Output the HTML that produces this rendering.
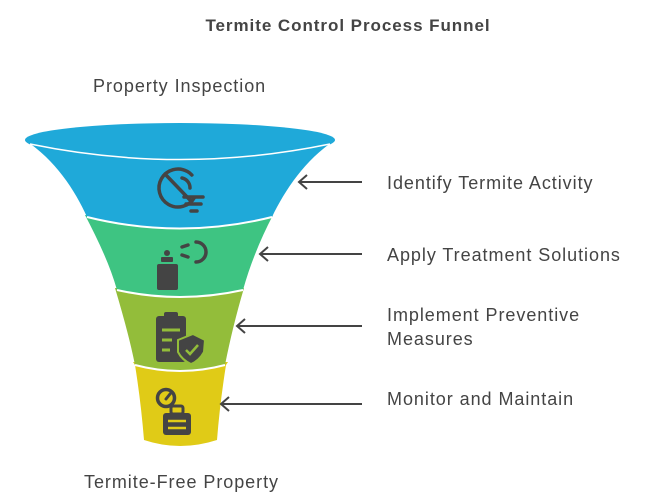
<!DOCTYPE html>
<html><head><style>
body{margin:0;width:649px;height:502px;background:#fff;overflow:hidden}
svg{display:block}
text{font-family:"Liberation Sans",sans-serif;fill:#444;letter-spacing:0.95px}
</style></head><body>
<svg width="649" height="502" viewBox="0 0 649 502">
<text x="348" y="31" text-anchor="middle" font-size="17" font-weight="bold" fill="#333">Termite Control Process Funnel</text>
<text x="93" y="92" font-size="18">Property Inspection</text>
<text x="84" y="488" font-size="18">Termite-Free Property</text>
<path d="M133,362 L135,365 C139,390 142,415 144,440 Q180,452 217,440 C219,415 222,390 226,365 L228,362 Z" fill="#e0cb17"/>
<path d="M115,288 C123,315 130,340 135,365 Q180,377 225,365 C230,340 236,315 244,288 Z" fill="#93bd3a"/>
<path d="M85,215 C98,240 110,265 117,290 Q180,304 243,290 C250,265 260,240 273,215 Z" fill="#3ec482"/>
<path d="M25,140 C55,160 75,190 87,217 Q180,240 272,217 C285,190 305,160 335,140 Z" fill="#1fa9d9"/>
<ellipse cx="180" cy="140" rx="155" ry="17" fill="#1fa9d9"/>
<path d="M30,144 Q180,175 330,144" fill="none" stroke="#fff" stroke-width="1.5"/>
<path d="M87,217 Q180,240 272,217" fill="none" stroke="#fff" stroke-width="2"/>
<path d="M117,290 Q180,304 243,290" fill="none" stroke="#fff" stroke-width="2"/>
<path d="M135,365 Q180,377 225,365" fill="none" stroke="#fff" stroke-width="2"/>
<g fill="none" stroke="#444" stroke-width="3.5" stroke-linecap="round">
<circle cx="178" cy="188" r="19" stroke-dasharray="95 25" transform="rotate(30 178 188)"/>
<path d="M165,174 L190,200"/>
<path d="M182,178 A10,10 0 0 1 190,188"/>
<path d="M184,197 L203,197 M186,204 L201,204 M191,211 L197,211"/>
<path d="M182,247 L188,245 M182,255 L188,257 M196,242 A10,10 0 0 1 196,262"/>
</g>
<g fill="#444">
<circle cx="167" cy="253" r="3"/>
<rect x="161" y="257" width="12" height="5" rx="1"/>
<rect x="157" y="264" width="21" height="26" rx="2"/>
<rect x="156" y="316" width="30" height="46" rx="3"/>
<rect x="164" y="312" width="14" height="7" rx="2"/>
<rect x="163" y="413" width="28" height="22" rx="3"/>
<rect x="171" y="406" width="12" height="8" rx="2" fill="none" stroke="#444" stroke-width="3"/>
</g>
<g stroke="#93bd3a" stroke-width="3"><path d="M162,330 L180,330 M162,340 L172,340 M162,350 L170,350"/></g>
<path d="M178,340 L193,334 L205,340 L204,352 Q199,361 191,364 Q182,360 178,352 Z" fill="#444" stroke="#93bd3a" stroke-width="2"/>
<path d="M186,350 L190,354 L198,345" fill="none" stroke="#93bd3a" stroke-width="2.5"/>
<g stroke="#e0cb17" stroke-width="2.5"><path d="M168,421 L186,421 M168,428 L186,428"/></g>
<circle cx="166" cy="398" r="8.5" fill="none" stroke="#444" stroke-width="3.5"/>
<path d="M166,399 L170,394" stroke="#444" stroke-width="3" stroke-linecap="round"/>
<g fill="none" stroke="#444" stroke-width="2">
<path d="M362,182 L299,182 M307,175 L299,182 L307,189"/>
<path d="M362,254 L260,254 M268,247 L260,254 L268,261"/>
<path d="M362,326 L237,326 M245,319 L237,326 L245,333"/>
<path d="M362,404 L221,404 M229,397 L221,404 L229,411"/>
</g>
<text x="387" y="189" font-size="18">Identify Termite Activity</text>
<text x="387" y="261" font-size="18">Apply Treatment Solutions</text>
<text x="387" y="321" font-size="18">Implement Preventive</text>
<text x="387" y="345" font-size="18">Measures</text>
<text x="387" y="405" font-size="18">Monitor and Maintain</text>
</svg>
</body></html>
